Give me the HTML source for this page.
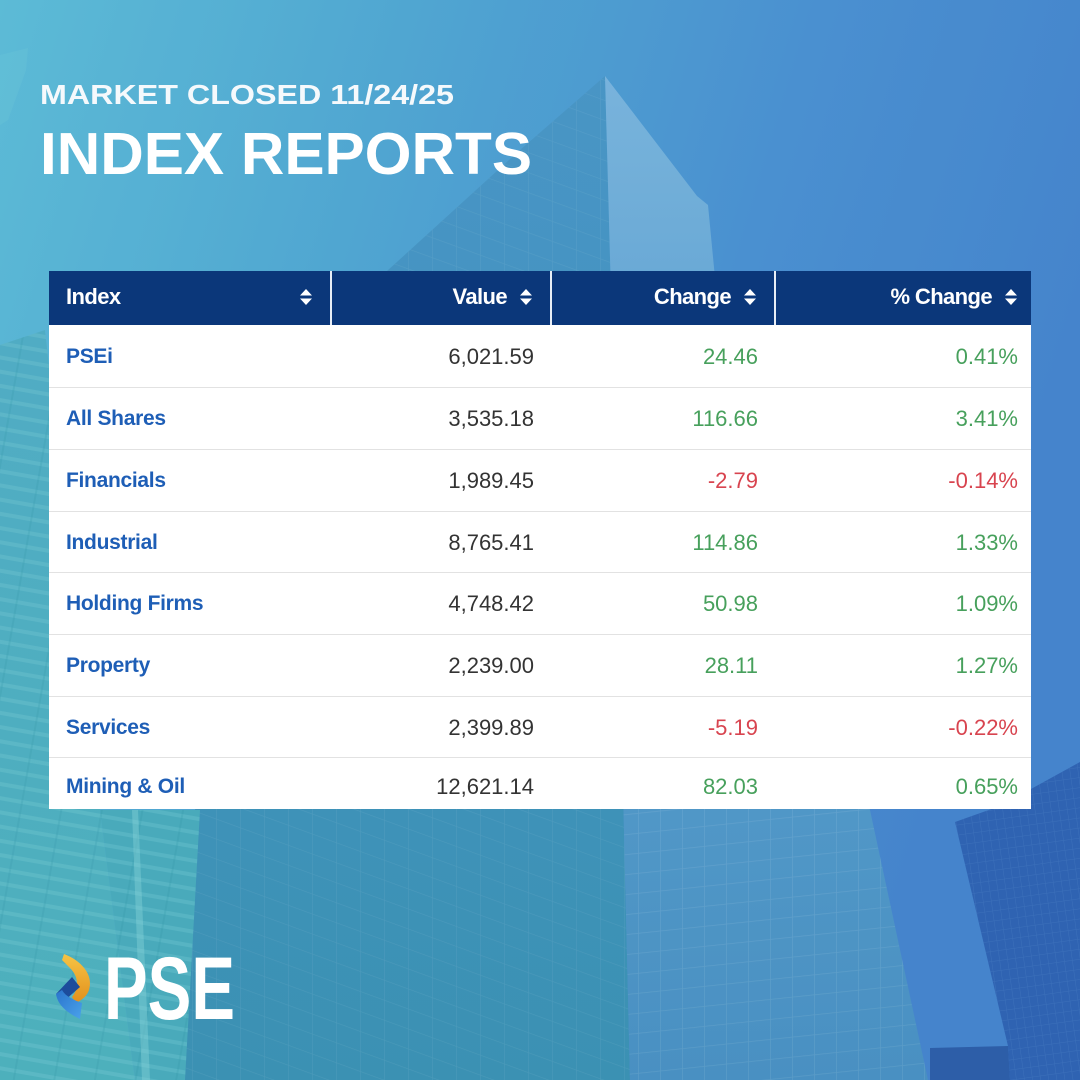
<!DOCTYPE html>
<html>
<head>
<meta charset="utf-8">
<style>
  html,body{margin:0;padding:0;}
  body{width:1080px;height:1080px;overflow:hidden;position:relative;font-family:"Liberation Sans",Arial,sans-serif;}
  #bg{position:absolute;left:0;top:0;}
  .tbl{position:absolute;left:49px;top:271px;width:982px;height:538px;background:#fff;overflow:hidden;}
  .hdr{position:absolute;left:0;top:0;width:982px;height:54px;background:#0b377a;}
  .vsep{position:absolute;top:0;width:2px;height:54px;background:#e8eef6;}
  .h{position:absolute;top:0;height:54px;line-height:52px;color:#fff;font-weight:bold;font-size:22px;letter-spacing:-0.6px;white-space:nowrap;}
  .ic{position:absolute;top:17px;width:12px;height:18px;}
  .row{position:absolute;left:0;width:982px;}
  .row.s{border-top:1.5px solid #e2e2e2;}
  .c{position:absolute;top:0;white-space:nowrap;font-size:22px;}
  .n{left:17px;color:#1e5eb6;font-weight:bold;font-size:21px;letter-spacing:-0.3px;}
  .v{right:497px;color:#333;}
  .g{color:#47a05c;}
  .r{color:#d8444f;}
  .ch{right:273px;}
  .pc{right:13px;}
</style>
</head>
<body>
<svg id="bg" width="1080" height="1080" viewBox="0 0 1080 1080" xmlns="http://www.w3.org/2000/svg">
  <defs>
    <linearGradient id="sky" x1="0" y1="0" x2="1" y2="0.3">
      <stop offset="0" stop-color="#5ebcd7"/>
      <stop offset="0.35" stop-color="#52a6d2"/>
      <stop offset="0.7" stop-color="#4b8fd1"/>
      <stop offset="1" stop-color="#4682cd"/>
    </linearGradient>
    <linearGradient id="lface" x1="0" y1="0" x2="0" y2="1">
      <stop offset="0" stop-color="#4a94c6"/>
      <stop offset="0.5" stop-color="#4292bd"/>
      <stop offset="1" stop-color="#3c90b3"/>
    </linearGradient>
    <linearGradient id="rface" x1="0" y1="0" x2="0" y2="1">
      <stop offset="0" stop-color="#7db4de"/>
      <stop offset="0.4" stop-color="#5d9fd0"/>
      <stop offset="1" stop-color="#4a8fc2"/>
    </linearGradient>
    <linearGradient id="leftb" x1="0" y1="0" x2="0" y2="1">
      <stop offset="0" stop-color="#52acc4"/>
      <stop offset="1" stop-color="#4fb0bc"/>
    </linearGradient>
    <linearGradient id="orng" x1="0" y1="0" x2="0" y2="1">
      <stop offset="0" stop-color="#f6c445"/>
      <stop offset="1" stop-color="#e2901c"/>
    </linearGradient>
    <linearGradient id="blu" x1="0" y1="0" x2="1" y2="1">
      <stop offset="0" stop-color="#2a74cc"/>
      <stop offset="1" stop-color="#4aa2ea"/>
    </linearGradient>
    <pattern id="stripes" width="40" height="14" patternUnits="userSpaceOnUse" patternTransform="rotate(10)">
      <rect width="40" height="4" y="0" fill="#8fdbe0" fill-opacity="0.22"/>
      <rect width="2" height="14" x="0" fill="#2f8ea3" fill-opacity="0.18"/>
    </pattern>
    <pattern id="grid" width="22" height="20" patternUnits="userSpaceOnUse" patternTransform="skewY(-6)">
      <path d="M0 0H22M0 0V20" stroke="#ffffff" stroke-opacity="0.1" stroke-width="1.5" fill="none"/>
    </pattern>
    <pattern id="grid2" width="24" height="20" patternUnits="userSpaceOnUse" patternTransform="skewY(20)">
      <path d="M0 0H24M0 0V20" stroke="#ffffff" stroke-opacity="0.08" stroke-width="1.2" fill="none"/>
    </pattern>
    <pattern id="darkgrid" width="8" height="10" patternUnits="userSpaceOnUse" patternTransform="rotate(-8)">
      <path d="M0 0V10M0 0H8" stroke="#5a8ed0" stroke-opacity="0.3" stroke-width="1" fill="none"/>
    </pattern>
  </defs>

  <!-- sky -->
  <rect width="1080" height="1080" fill="url(#sky)"/>

  <!-- faint crane/structure top-left -->
  <path d="M0 55 L28 48 L26 70 L8 120 L0 125 Z" fill="#7fd0e0" fill-opacity="0.18"/>

  <!-- central tower -->
  <path d="M605 76 L520 150 L387 271 L300 420 L230 650 L195 810 L175 1080 L630 1080 L612 330 Z" fill="url(#lface)"/>
  <path d="M605 76 L520 150 L387 271 L300 420 L230 650 L195 810 L175 1080 L630 1080 L612 330 Z" fill="url(#grid2)"/>
  <path d="M605 76 L697 196 L708 205 L720 330 L870 810 L928 1080 L630 1080 L612 330 Z" fill="url(#rface)"/>
  <path d="M612 330 L720 330 L870 810 L928 1080 L630 1080 Z" fill="url(#grid)"/>

  <!-- left buildings -->
  <path d="M0 345 L45 330 L70 560 L100 810 L135 1080 L0 1080 Z" fill="url(#leftb)"/>
  <path d="M0 345 L45 330 L70 560 L100 810 L135 1080 L0 1080 Z" fill="url(#stripes)"/>
  <path d="M100 810 L200 810 L185 1080 L135 1080 Z" fill="#4aaabb"/>
  <path d="M100 810 L200 810 L185 1080 L135 1080 Z" fill="url(#stripes)"/>
  <path d="M132 810 L138 810 L150 1080 L142 1080 Z" fill="#8fd8dc" fill-opacity="0.4"/>

  <!-- teal overlay -->
  <rect width="1080" height="1080" fill="#3fb3c0" fill-opacity="0.05"/>

  <!-- dark right building -->
  <path d="M955 822 L1000 806 L1080 762 L1080 1080 L1010 1080 L1008 1046 Z" fill="#2f63b2"/>
  <path d="M955 822 L1000 806 L1080 762 L1080 1080 L1010 1080 L1008 1046 Z" fill="url(#darkgrid)"/>
  <path d="M930 1048 L1008 1046 L1010 1080 L930 1080 Z" fill="#2d5ea8"/>

  <!-- Titles -->
  <text x="40" y="104" font-family="Liberation Sans, Arial, sans-serif" font-weight="bold" font-size="28" fill="#f5f9fc" textLength="414" lengthAdjust="spacingAndGlyphs">MARKET CLOSED 11/24/25</text>
  <text x="40" y="174" font-family="Liberation Sans, Arial, sans-serif" font-weight="bold" font-size="59" fill="#ffffff" textLength="492" lengthAdjust="spacingAndGlyphs">INDEX REPORTS</text>

  <!-- PSE logo -->
  <path d="M64 954 C80 960 94 974 89 990 C87 996 82 1000 76 1003 L72 997 C78 990 80 978 70 968 L62 960 Z" fill="url(#orng)"/>
  <path d="M56 994 L72 977 L80 987 L64 1001 Z" fill="#1c4c9c"/>
  <path d="M56 994 C58 1006 68 1013 80 1019 L82 1003 C74 1000 66 997 62 990 Z" fill="url(#blu)"/>
  <text x="104" y="1019" font-family="Liberation Sans, Arial, sans-serif" font-weight="bold" font-size="89" fill="#ffffff" textLength="131" lengthAdjust="spacingAndGlyphs">PSE</text>
</svg>

<div class="tbl">
  <div class="hdr">
    <div class="vsep" style="left:281px"></div>
    <div class="vsep" style="left:501px"></div>
    <div class="vsep" style="left:725px"></div>
    <div class="h" style="left:17px">Index</div>
    <svg class="ic" style="left:251px" viewBox="0 0 12 18"><path d="M0 7.5 L6 1 L12 7.5Z M0 10.5 L12 10.5 L6 17Z" fill="#fff"/></svg>
    <div class="h" style="right:524px">Value</div>
    <svg class="ic" style="left:471px" viewBox="0 0 12 18"><path d="M0 7.5 L6 1 L12 7.5Z M0 10.5 L12 10.5 L6 17Z" fill="#fff"/></svg>
    <div class="h" style="right:300px">Change</div>
    <svg class="ic" style="left:695px" viewBox="0 0 12 18"><path d="M0 7.5 L6 1 L12 7.5Z M0 10.5 L12 10.5 L6 17Z" fill="#fff"/></svg>
    <div class="h" style="right:39px">% Change</div>
    <svg class="ic" style="left:956px" viewBox="0 0 12 18"><path d="M0 7.5 L6 1 L12 7.5Z M0 10.5 L12 10.5 L6 17Z" fill="#fff"/></svg>
  </div>

  <div class="row" style="top:54px;height:63px;line-height:63px;">
    <div class="c n">PSEi</div><div class="c v">6,021.59</div><div class="c ch g">24.46</div><div class="c pc g">0.41%</div>
  </div>
  <div class="row s" style="top:116px;height:62px;line-height:62px;">
    <div class="c n">All Shares</div><div class="c v">3,535.18</div><div class="c ch g">116.66</div><div class="c pc g">3.41%</div>
  </div>
  <div class="row s" style="top:178px;height:62px;line-height:62px;">
    <div class="c n">Financials</div><div class="c v">1,989.45</div><div class="c ch r">-2.79</div><div class="c pc r">-0.14%</div>
  </div>
  <div class="row s" style="top:240px;height:61px;line-height:61px;">
    <div class="c n">Industrial</div><div class="c v">8,765.41</div><div class="c ch g">114.86</div><div class="c pc g">1.33%</div>
  </div>
  <div class="row s" style="top:301px;height:62px;line-height:62px;">
    <div class="c n">Holding Firms</div><div class="c v">4,748.42</div><div class="c ch g">50.98</div><div class="c pc g">1.09%</div>
  </div>
  <div class="row s" style="top:363px;height:62px;line-height:62px;">
    <div class="c n">Property</div><div class="c v">2,239.00</div><div class="c ch g">28.11</div><div class="c pc g">1.27%</div>
  </div>
  <div class="row s" style="top:425px;height:61px;line-height:61px;">
    <div class="c n">Services</div><div class="c v">2,399.89</div><div class="c ch r">-5.19</div><div class="c pc r">-0.22%</div>
  </div>
  <div class="row s" style="top:486px;height:58px;line-height:58px;">
    <div class="c n">Mining &amp; Oil</div><div class="c v">12,621.14</div><div class="c ch g">82.03</div><div class="c pc g">0.65%</div>
  </div>
</div>
</body>
</html>
